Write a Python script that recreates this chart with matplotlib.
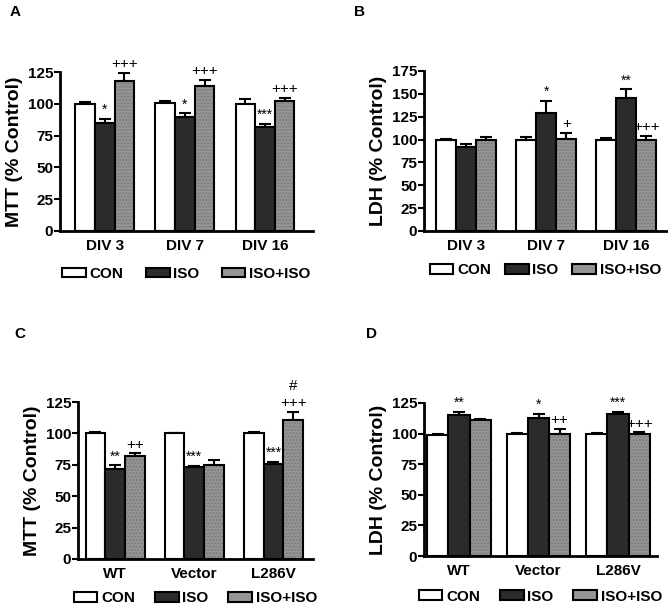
import matplotlib
matplotlib.use("Agg")
from matplotlib import pyplot as plt
import numpy as np

plt.rcParams['font.family'] = ['Liberation Sans', 'DejaVu Sans']
plt.rcParams['font.weight'] = 'bold'

groups_div = ["DIV 3", "DIV 7", "DIV 16"]
groups_gene = ["WT", "Vector", "L286V"]
series_names = ["CON", "ISO", "ISO+ISO"]

# panel A: MTT vs days in vitro
mtt_div = [[100, 101, 100], [85, 90, 82], [118, 114, 102]]
mtt_div_err = [[1.5, 1.5, 4], [3.4, 2.4, 2.1], [6.3, 5, 2.6]]
mtt_div_marks = [["", "", ""], ["*", "*", "***"], ["+++", "+++", "+++"]]

# panel B: LDH vs days in vitro
ldh_div = [[100, 100, 100], [92, 129, 146], [100, 101, 100]]
ldh_div_err = [[1, 3, 1.5], [3.5, 13, 9], [2.5, 6, 4]]
ldh_div_marks = [["", "", ""], ["", "*", "**"], ["", "+", "+++"]]

# panel C: MTT by construct
mtt_gene = [[100, 100, 100], [72, 73, 76], [82, 75, 111]]
mtt_gene_err = [[1, 0.5, 1], [2.7, 1, 1.5], [2, 3.5, 5.8]]
mtt_gene_marks = [["", "", ""], ["**", "***", "***"], ["++", "", "#\n+++"]]

# panel D: LDH by construct
ldh_gene = [[99, 100, 100], [115, 113, 116], [111, 100, 100]]
ldh_gene_err = [[1, 0.5, 0.5], [3, 3, 2], [0.6, 4, 1]]
ldh_gene_marks = [["", "", ""], ["**", "*", "***"], ["", "++", "+++"]]

colors = ["white", "#2b2b2b", "#959595"]
hatches = [None, None, "....."]

W, H = 668, 605
fig = plt.figure(figsize=(W / 100, H / 100), dpi=100)


def px_axes(left, top, right, bottom):
    return fig.add_axes([left / W, 1 - bottom / H, (right - left) / W, (bottom - top) / H])


def panel(ax, cats, vals, errs, marks, ylabel, ymax, yticks, xlim, width, leg_y, colsp):
    x = np.arange(len(cats))
    for i, name in enumerate(series_names):
        pos = x + (i - 1) * width
        if hatches[i]:
            # speckled texture of the grey bars
            ax.bar(pos, vals[i], width, color=colors[i], edgecolor="#7a7a7a",
                   hatch=hatches[i], linewidth=0, zorder=2)
            ax.bar(pos, vals[i], width, fill=False, edgecolor="black",
                   linewidth=1.5, zorder=2)
            ax.bar([np.nan], [np.nan], width, color=colors[i], edgecolor="black",
                   linewidth=1.5, label=name)
        else:
            ax.bar(pos, vals[i], width, color=colors[i], edgecolor="black",
                   linewidth=1.5, label=name, zorder=2)
        ax.errorbar(pos, vals[i], yerr=[np.zeros(len(cats)), errs[i]], fmt="none",
                    ecolor="black", elinewidth=1.5, capsize=4, capthick=1.5, zorder=1)
        for p, v, e, m in zip(pos, vals[i], errs[i], marks[i]):
            if m:
                fs = 10 if "*" in m else 11
                ax.text(p, v + e + ymax * 0.012, m, ha="center", va="bottom",
                        fontsize=fs, fontweight="normal", linespacing=1.3)
    ax.set_xlim(*xlim)
    ax.set_ylim(0, ymax)
    ax.set_yticks(yticks)
    ax.set_xticks(x)
    ax.set_xticklabels(cats, fontsize=11, fontweight="bold")
    ax.tick_params(axis="x", length=0, pad=6)
    ax.tick_params(axis="y", length=4, width=1.5, labelsize=11, pad=1)
    for lab in ax.get_yticklabels():
        lab.set_fontweight("bold")
    for s in ["top", "right"]:
        ax.spines[s].set_visible(False)
    for s in ["left", "bottom"]:
        ax.spines[s].set_linewidth(2)
    ax.set_ylabel(ylabel, fontsize=14, fontweight="bold", labelpad=3)
    ax.legend(loc="center", bbox_to_anchor=(0.5, leg_y), ncol=3, frameon=False,
              prop={"size": 11, "weight": "bold"}, handlelength=1.55, handleheight=0.6,
              handletextpad=0.25, columnspacing=colsp, borderaxespad=0)


axA = px_axes(60, 72, 313, 231)
panel(axA, groups_div, mtt_div, mtt_div_err, mtt_div_marks, "MTT (% Control)",
      125, [0, 25, 50, 75, 100, 125], (-0.56, 2.6), 0.245, -0.27, 1.45)

axB = px_axes(424, 71, 667, 231)
panel(axB, groups_div, ldh_div, ldh_div_err, ldh_div_marks, "LDH (% Control)",
      175, [0, 25, 50, 75, 100, 125, 150, 175], (-0.53, 2.51), 0.25, -0.245, 0.9)

axC = px_axes(78, 402, 313, 559)
panel(axC, groups_gene, mtt_gene, mtt_gene_err, mtt_gene_marks, "MTT (% Control)",
      125, [0, 25, 50, 75, 100, 125], (-0.47, 2.5), 0.25, -0.25, 1.3)

axD = px_axes(424, 403, 657, 556)
panel(axD, groups_gene, ldh_gene, ldh_gene_err, ldh_gene_marks, "LDH (% Control)",
      125, [0, 25, 50, 75, 100, 125], (-0.44, 2.49), 0.265, -0.265, 1.3)

for letter, (px, py) in zip("ABCD", [(10, 12), (354, 12), (14, 334), (366, 334)]):
    fig.text(px / W, 1 - py / H, letter, fontsize=11, fontweight="bold", ha="left", va="center")

fig.savefig("out.png", dpi=100)
